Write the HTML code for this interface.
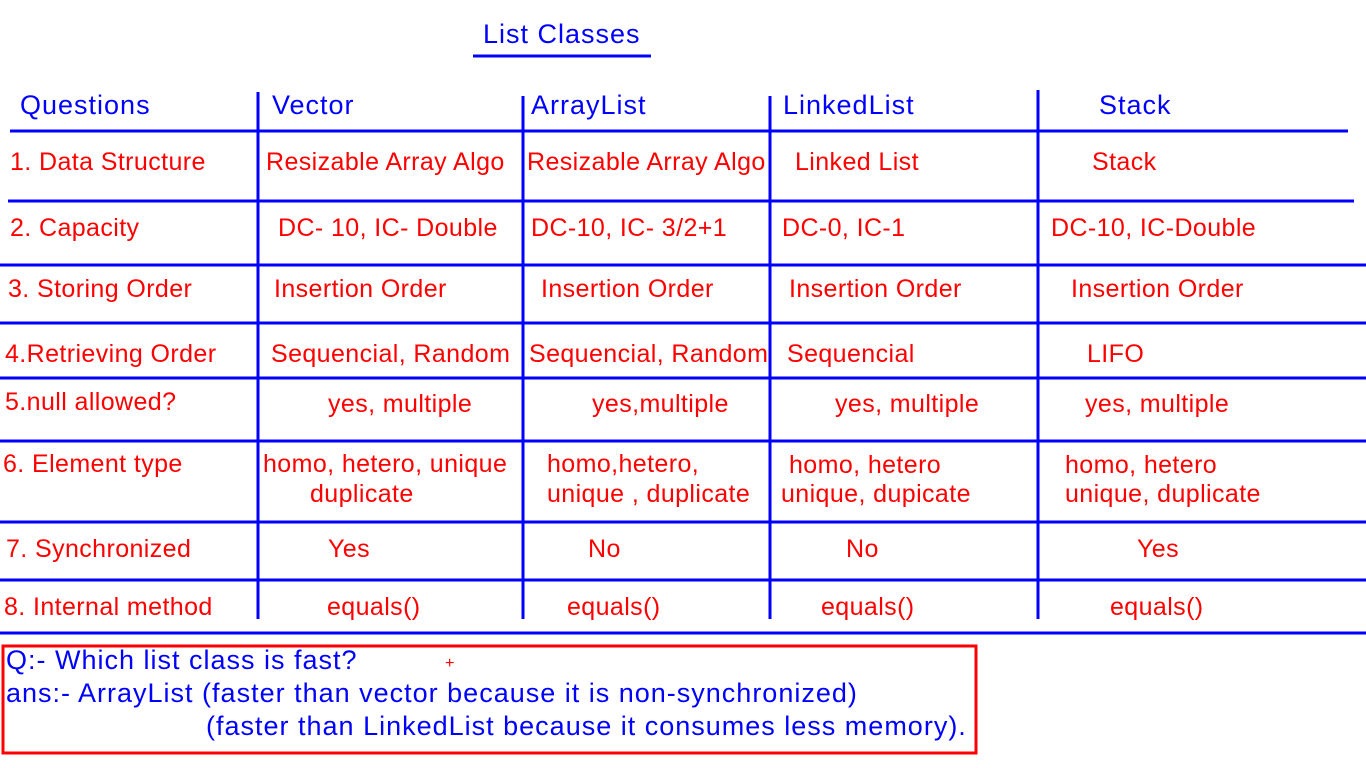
<!DOCTYPE html>
<html><head><meta charset="utf-8"><style>
html,body{margin:0;padding:0;background:#fff;width:1366px;height:768px;overflow:hidden}
svg{display:block}
text{font-family:"Liberation Sans",Arial,sans-serif}
.r{fill:#f00;font-size:25px;letter-spacing:0.4px}
.b{fill:#00f;font-size:27px;letter-spacing:1px}
</style></head><body>
<svg width="1366" height="768" viewBox="0 0 1366 768">
<g stroke="#00f" stroke-width="3">
<line x1="473" y1="56" x2="651" y2="56"/>
<line x1="10" y1="131" x2="1348" y2="131"/>
<line x1="8" y1="201" x2="1354" y2="201"/>
<line x1="0" y1="265" x2="1366" y2="265"/>
<line x1="0" y1="323" x2="1366" y2="323"/>
<line x1="0" y1="378" x2="1366" y2="378"/>
<line x1="0" y1="441" x2="1366" y2="441"/>
<line x1="0" y1="522" x2="1366" y2="522"/>
<line x1="0" y1="580" x2="1366" y2="580"/>
<line x1="0" y1="633" x2="1366" y2="633"/>
<line x1="258" y1="92" x2="258" y2="619"/>
<line x1="523" y1="96" x2="523" y2="619"/>
<line x1="770" y1="96" x2="770" y2="619"/>
<line x1="1038" y1="90" x2="1038" y2="619"/>
</g>
<rect x="3" y="646" width="973" height="107" fill="none" stroke="#f00" stroke-width="3"/>
<text x="483" y="43" class="b">List Classes</text>
<text x="20" y="114" class="b">Questions</text>
<text x="272" y="114" class="b">Vector</text>
<text x="531" y="114" class="b">ArrayList</text>
<text x="783" y="114" class="b">LinkedList</text>
<text x="1099" y="114" class="b">Stack</text>

<text x="10" y="170" class="r">1. Data Structure</text>
<text x="266" y="170" class="r">Resizable Array Algo</text>
<text x="527" y="170" class="r">Resizable Array Algo</text>
<text x="795" y="170" class="r">Linked List</text>
<text x="1092" y="170" class="r">Stack</text>

<text x="10" y="236" class="r">2. Capacity</text>
<text x="278" y="236" class="r">DC- 10, IC- Double</text>
<text x="531" y="236" class="r">DC-10, IC- 3/2+1</text>
<text x="782" y="236" class="r">DC-0, IC-1</text>
<text x="1051" y="236" class="r">DC-10, IC-Double</text>

<text x="8" y="297" class="r">3. Storing Order</text>
<text x="274" y="297" class="r">Insertion Order</text>
<text x="541" y="297" class="r">Insertion Order</text>
<text x="789" y="297" class="r">Insertion Order</text>
<text x="1071" y="297" class="r">Insertion Order</text>

<text x="5" y="362" class="r">4.Retrieving Order</text>
<text x="271" y="362" class="r">Sequencial, Random</text>
<text x="529" y="362" class="r">Sequencial, Random</text>
<text x="787" y="362" class="r">Sequencial</text>
<text x="1087" y="362" class="r">LIFO</text>

<text x="5" y="410" class="r">5.null allowed?</text>
<text x="328" y="412" class="r">yes, multiple</text>
<text x="592" y="412" class="r">yes,multiple</text>
<text x="835" y="412" class="r">yes, multiple</text>
<text x="1085" y="412" class="r">yes, multiple</text>

<text x="3" y="472" class="r">6. Element type</text>
<text x="263" y="472" class="r">homo, hetero, unique</text>
<text x="310" y="502" class="r">duplicate</text>
<text x="547" y="472" class="r">homo,hetero,</text>
<text x="547" y="502" class="r">unique , duplicate</text>
<text x="789" y="473" class="r">homo, hetero</text>
<text x="781" y="502" class="r">unique, dupicate</text>
<text x="1065" y="473" class="r">homo, hetero</text>
<text x="1065" y="502" class="r">unique, duplicate</text>

<text x="6" y="557" class="r">7. Synchronized</text>
<text x="328" y="557" class="r">Yes</text>
<text x="588" y="557" class="r">No</text>
<text x="846" y="557" class="r">No</text>
<text x="1137" y="557" class="r">Yes</text>

<text x="4" y="615" class="r">8. Internal method</text>
<text x="327" y="615" class="r">equals()</text>
<text x="567" y="615" class="r">equals()</text>
<text x="821" y="615" class="r">equals()</text>
<text x="1110" y="615" class="r">equals()</text>

<text x="6" y="669" class="b">Q:- Which list class is fast?</text>
<text x="445" y="668" fill="#f00" font-size="16">+</text>
<text x="6" y="702" class="b">ans:- ArrayList (faster than vector because it is non-synchronized)</text>
<text x="206" y="735" class="b">(faster than LinkedList because it consumes less memory).</text>
</svg>
</body></html>
